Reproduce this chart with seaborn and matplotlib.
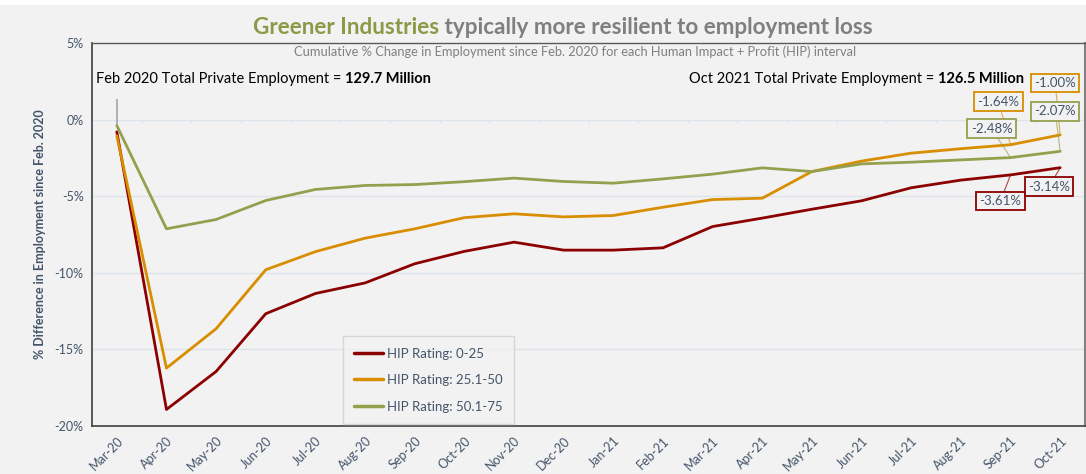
import matplotlib
matplotlib.use("Agg")
import matplotlib.pyplot as plt
import seaborn as sns
import pandas as pd
from matplotlib.patches import Rectangle

months = ["Mar-20", "Apr-20", "May-20", "Jun-20", "Jul-20", "Aug-20", "Sep-20", "Oct-20",
          "Nov-20", "Dec-20", "Jan-21", "Feb-21", "Mar-21", "Apr-21", "May-21", "Jun-21",
          "Jul-21", "Aug-21", "Sep-21", "Oct-21"]
hip_0_25 = [-0.80, -18.92, -16.44, -12.67, -11.35, -10.66, -9.41, -8.60, -8.00, -8.52,
            -8.52, -8.37, -6.98, -6.43, -5.85, -5.30, -4.45, -3.95, -3.61, -3.14]
hip_25_50 = [-1.05, -16.22, -13.65, -9.80, -8.62, -7.74, -7.13, -6.40, -6.15, -6.35,
             -6.26, -5.72, -5.22, -5.13, -3.39, -2.71, -2.19, -1.90, -1.64, -1.00]
hip_50_75 = [-0.39, -7.13, -6.52, -5.28, -4.56, -4.30, -4.24, -4.05, -3.82, -4.04,
             -4.15, -3.87, -3.56, -3.15, -3.39, -2.89, -2.78, -2.63, -2.48, -2.07]
series_names = ["HIP Rating: 0-25", "HIP Rating: 25.1-50", "HIP Rating: 50.1-75"]
y_ticks = [5, 0, -5, -10, -15, -20]

colors = ["#8B0000", "#D88E00", "#95A04F"]
BG = "#F2F2F2"
TXT = "#44546A"

df = pd.concat([
    pd.DataFrame({"month": months, "value": vals, "series": name})
    for name, vals in zip(series_names, [hip_0_25, hip_25_50, hip_50_75])
], ignore_index=True)

sns.set_theme(style="white")
plt.rcParams["font.family"] = ["Lato", "DejaVu Sans"]

fig = plt.figure(figsize=(10.86, 4.74), dpi=100, facecolor=BG)
fig.patches.append(Rectangle((0, 0.99), 1, 0.01, transform=fig.transFigure,
                             facecolor="white", edgecolor="none", zorder=-1))
ax = fig.add_axes([92 / 1086, 1 - 426 / 474, 993 / 1086, 383 / 474])
ax.set_facecolor(BG)

sns.lineplot(data=df, x="month", y="value", hue="series", palette=colors,
             hue_order=series_names, sort=False, linewidth=2.0, ax=ax, zorder=3)

ax.set_xlim(-0.5, len(months) - 0.5)
ax.set_ylim(-20, 5)
ax.set_yticks(y_ticks)
ax.set_yticklabels([f"{t}%" for t in y_ticks], color=TXT, fontsize=9)
ax.set_xticks(range(len(months)))
ax.set_xticklabels(months, rotation=45, ha="right", rotation_mode="anchor",
                   color=TXT, fontsize=9)
ax.tick_params(axis="both", length=0, pad=6)
ax.set_xlabel("")
ax.set_ylabel("% Difference in Employment since Feb. 2020", color=TXT,
              fontsize=9, fontweight="bold", labelpad=6)

for t in [0, -5, -10, -15]:
    ax.axhline(t, color="#DCE3EA", lw=1.0, zorder=1)
ax.vlines([i + 0.5 for i in range(len(months) - 1)], -0.25, 0, color="#DCE3EA", lw=1.0, zorder=1)
ax.vlines(0, hip_50_75[0], 1.35, color="#A6A6A6", lw=1.2, zorder=2)

for side, col, lw in [("left", "#404040", 1.2), ("bottom", "#404040", 1.2),
                      ("top", "#595959", 1.0), ("right", "#808080", 1.5)]:
    ax.spines[side].set_visible(True)
    ax.spines[side].set_color(col)
    ax.spines[side].set_linewidth(lw)

leg = ax.legend(loc="center", bbox_to_anchor=(0.339, 0.12), frameon=True,
                fontsize=9.5, handlelength=2.2, handletextpad=0.3, labelspacing=1.1,
                borderpad=0.85, fancybox=False, edgecolor="#D0D0D0", facecolor=BG)
leg.get_frame().set_linewidth(1.0)
for t in leg.get_texts():
    t.set_color(TXT)
for h in leg.get_lines():
    h.set_linewidth(2.5)

# Data labels on the last two months
label_offsets = {
    (1, 18): (-12, 43), (1, 19): (-5, 52),
    (2, 18): (-19, 29), (2, 19): (-5, 40),
    (0, 18): (-10, -26), (0, 19): (-11, -19),
}
all_vals = [hip_0_25, hip_25_50, hip_50_75]
for (si, mi), (dx, dy) in label_offsets.items():
    v = all_vals[si][mi]
    ax.annotate(f"{v:.2f}%", xy=(mi, v), xytext=(dx, dy), textcoords="offset pixels",
                ha="center", va="center", color=TXT, fontsize=9.5, zorder=5,
                bbox=dict(boxstyle="square,pad=0.25", fc=BG, ec=colors[si], lw=1.3),
                arrowprops=dict(arrowstyle="-", color=colors[si], lw=0.8, alpha=0.7,
                                shrinkA=0, shrinkB=0))

# Employment totals
t1 = ax.text(0.004, 0.905, "Feb 2020 Total Private Employment = ", transform=ax.transAxes,
             fontsize=10.5, color="black", va="center", ha="left")
ax.annotate("129.7 Million", xy=(1, 0.5), xycoords=t1, va="center", ha="left",
            fontsize=10.5, fontweight="bold", color="black")
t2 = ax.text(0.939, 0.907, "126.5 Million", transform=ax.transAxes, fontsize=10.5,
             fontweight="bold", color="black", va="center", ha="right")
ax.annotate("Oct 2021 Total Private Employment = ", xy=(0, 0.5), xycoords=t2,
            va="center", ha="right", fontsize=10.5, color="black")

# Title
tg = fig.text(253 / 1086, 1 - 28 / 474, "Greener Industries", fontsize=16.2, fontweight="bold",
              color="#8C9A48", ha="left", va="center")
ax.annotate(" typically more resilient to employment loss", xy=(1, 0.5), xycoords=tg,
            va="center", ha="left", fontsize=16.2, fontweight="bold", color="#7F7F7F",
            annotation_clip=False)
fig.text(575 / 1086, 1 - 52 / 474,
         "Cumulative % Change in Employment since Feb. 2020 for each Human Impact + Profit (HIP) interval",
         fontsize=9.3, color="#7F7F7F", ha="center", va="center")

fig.savefig("out.png", dpi=100, facecolor=BG)
